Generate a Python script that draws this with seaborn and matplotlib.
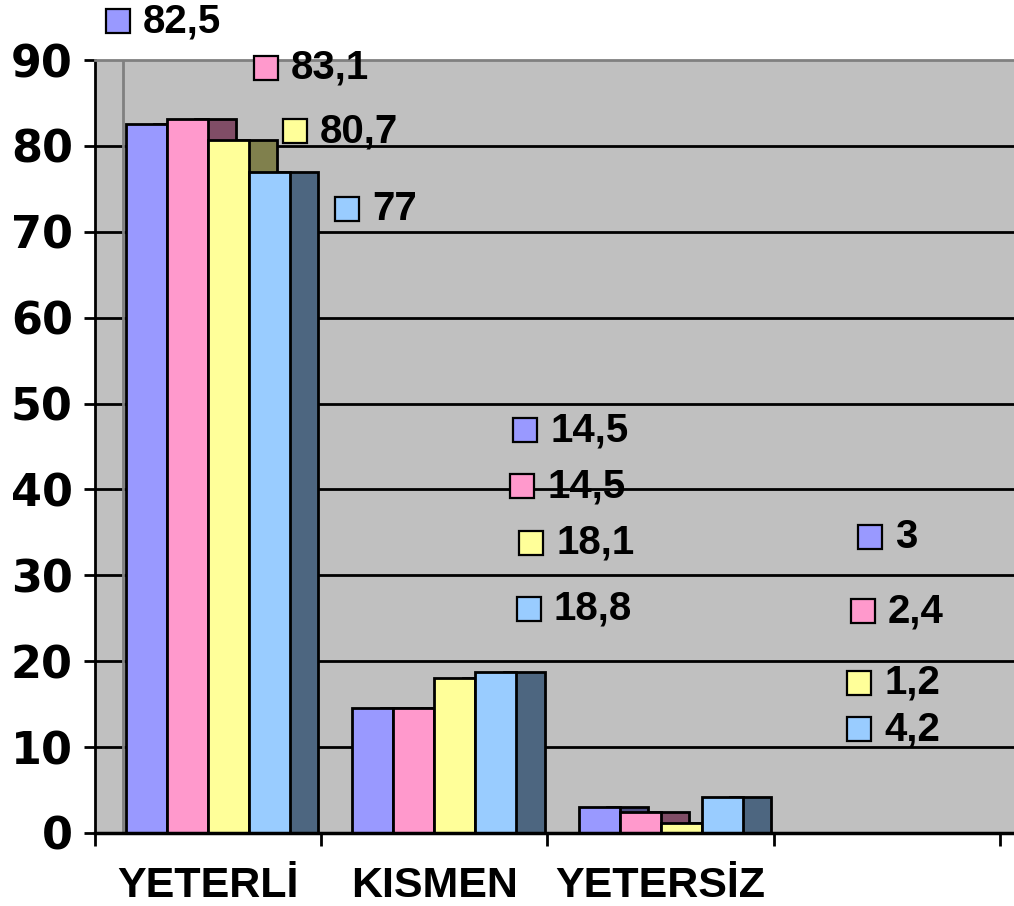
import matplotlib
matplotlib.use("Agg")
import matplotlib.pyplot as plt
import numpy as np
import pandas as pd
import seaborn as sns
from matplotlib.patches import Rectangle

# --- data ---
categories = ["YETERLİ", "KISMEN", "YETERSİZ", ""]
series_names = ["Seri 1", "Seri 2", "Seri 3", "Seri 4"]
seri_1 = [82.5, 14.5, 3.0]
seri_2 = [83.1, 14.5, 2.4]
seri_3 = [80.7, 18.1, 1.2]
seri_4 = [77.0, 18.8, 4.2]
y_ticks = [0, 10, 20, 30, 40, 50, 60, 70, 80, 90]

# --- styles ---
bar_colors = ["#9999FF", "#FF99CC", "#FFFF99", "#99CCFF"]
side_colors = ["#4D4D80", "#804D66", "#80804D", "#4D6680"]

# where Excel dropped the data labels (x in category units, y in axis units)
label_pos = [
    [(-0.398, 94.5), (1.401, 46.9), (2.925, 34.5)],
    [(0.254, 89.1), (1.389, 40.4), (2.894, 25.8)],
    [(0.384, 81.7), (1.429, 33.8), (2.877, 17.5)],
    [(0.616, 72.7), (1.418, 26.1), (2.877, 12.1)],
]

all_series = [seri_1, seri_2, seri_3, seri_4]
rows = []
for name, vals in zip(series_names, all_series):
    for cat, v in zip(categories[:3], vals):
        rows.append({"kategori": cat, "seri": name, "deger": v})
df = pd.DataFrame(rows)

sns.set_style("white")
plt.rcParams["text.color"] = "black"
plt.rcParams["xtick.color"] = "black"
plt.rcParams["ytick.color"] = "black"

fig = plt.figure(figsize=(10.14, 9.06), dpi=100)
ax = fig.add_axes([95 / 1014, 73 / 906, 919 / 1014, 773 / 906])

sns.barplot(
    data=df, x="kategori", y="deger", hue="seri", order=categories,
    hue_order=series_names, palette=bar_colors, width=0.725,
    edgecolor="black", linewidth=2, saturation=1, legend=False, ax=ax,
    zorder=3,
)

# darker side faces, offset to the right behind each bar
for i, bars in enumerate(ax.containers):
    for bar in bars:
        w = bar.get_width()
        ax.add_patch(Rectangle(
            (bar.get_x() + 0.69 * w, 0), w, bar.get_height(),
            facecolor=side_colors[i], edgecolor="black", linewidth=2, zorder=2,
        ))

ax.set_facecolor("#C0C0C0")
ax.set_xlim(-0.5, 3.562)
ax.set_ylim(0, 90)
ax.set_yticks(y_ticks)
for t in y_ticks[1:-1]:
    ax.axhline(t, color="black", linewidth=2, zorder=1)
ax.axvline(-0.376, color="#808080", linewidth=2, zorder=1)

ax.spines["right"].set_visible(False)
ax.spines["top"].set_color("#808080")
ax.spines["top"].set_linewidth(2)
ax.spines["left"].set_color("black")
ax.spines["left"].set_linewidth(2)
ax.spines["bottom"].set_color("black")
ax.spines["bottom"].set_linewidth(2.5)
ax.spines["bottom"].set_zorder(5)

# category boundaries as ticks, names centred between them
ax.set_xticks(np.arange(-0.5, 4.0, 1.0))
ax.set_xticklabels([])
ax.set_xticks(np.arange(len(categories)), minor=True)
ax.set_xticklabels(categories, minor=True, fontsize=31, fontweight="bold",
                   fontfamily="Liberation Sans", color="black")
ax.tick_params(axis="x", which="major", direction="out", length=9, width=2,
               color="black", bottom=True)
ax.tick_params(axis="x", which="minor", length=0, pad=24)
ax.tick_params(axis="y", direction="out", length=8, width=2, color="black",
               left=True, pad=8)
ax.set_yticklabels([str(t) for t in y_ticks], fontsize=32, fontweight="bold",
                   fontfamily="DejaVu Sans", color="black")
ax.set_xlabel("")
ax.set_ylabel("")

# data labels with legend keys
for i, vals in enumerate(all_series):
    for (lx, ly), v in zip(label_pos[i], vals):
        ax.plot(lx, ly, marker="s", markersize=17, markerfacecolor=bar_colors[i],
                markeredgecolor="black", markeredgewidth=1.6, clip_on=False,
                zorder=6)
        ax.annotate(f"{v:g}".replace(".", ","), (lx, ly), xytext=(18, 0),
                    textcoords="offset points", ha="left", va="center",
                    fontsize=29, fontweight="bold", fontfamily="Liberation Sans",
                    color="black", annotation_clip=False, zorder=6)

fig.savefig("out.png", dpi=100)
